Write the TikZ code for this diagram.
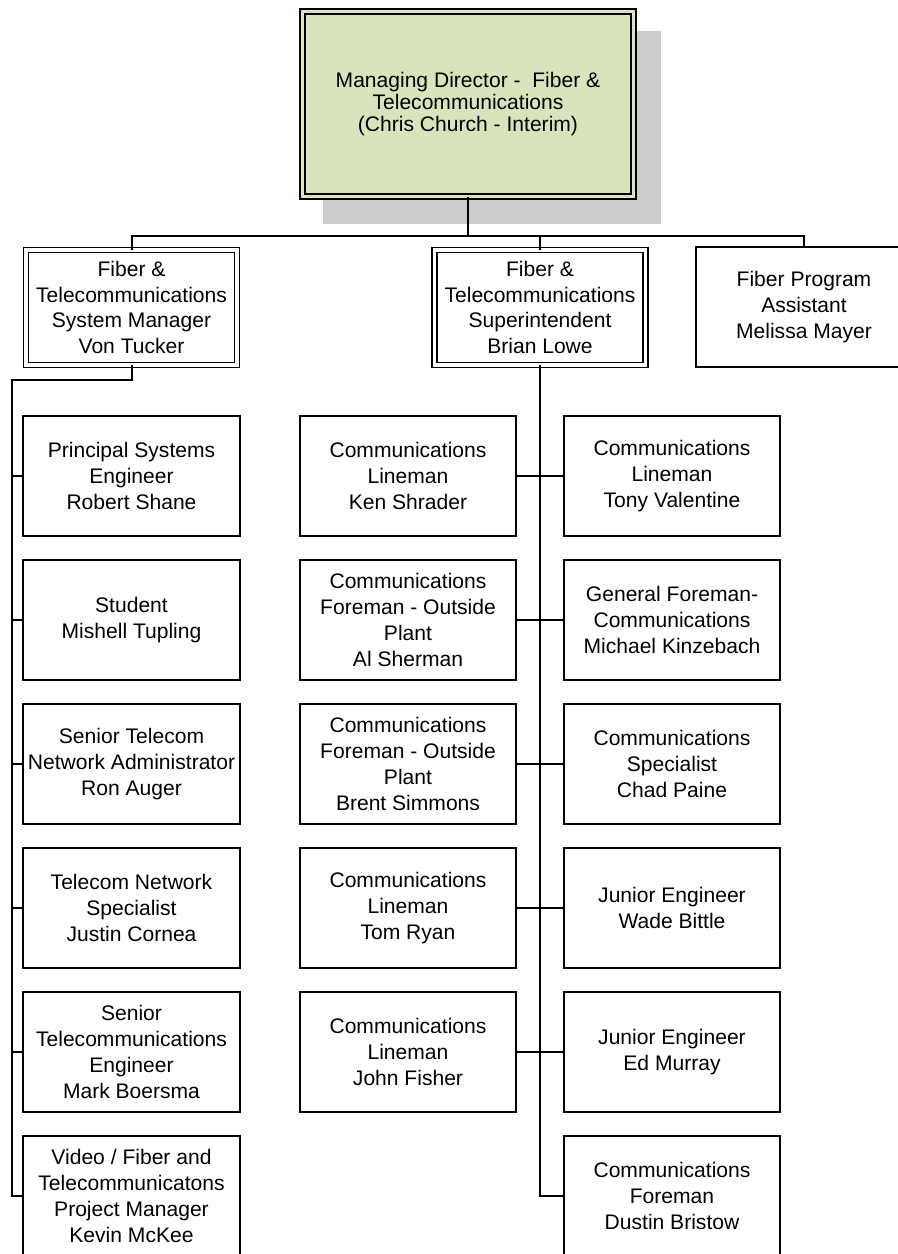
\documentclass[tikz,border=0pt]{standalone}
\usepackage{fontspec}
\setmainfont{Liberation Sans}
\usetikzlibrary{calc}

\definecolor{mdgreen}{RGB}{216,228,188}
\definecolor{mdshadow}{RGB}{204,204,204}

\tikzset{
        post/.style={draw, line width=1.5pt, minimum width=162.5pt, minimum height=90pt,
                inner sep=2pt, outer sep=0pt, align=center,
                font=\fontsize{15.8pt}{19.3pt}\selectfont},
        headpost/.style={post, double, line width=1.15pt, double distance=2.6pt,
                minimum width=158pt, minimum height=86pt},
        link/.style={line width=1.5pt},
}

\begin{document}
\begin{tikzpicture}[x=0.75pt,y=-0.75pt]
        \useasboundingbox (0,0) rectangle (898,1254);
        \clip (0,0) rectangle (898,1254);

        %director with its shadow
        \fill[mdshadow] (323,31) rectangle (661,224);
        \node[headpost, fill=mdgreen, double=mdgreen, line width=1.4pt, minimum width=248pt, minimum height=139pt,
                font=\fontsize{15.8pt}{16.6pt}\selectfont] (md) at (468,104) {Managing Director - \ Fiber \&\\Telecommunications\\(Chris Church - Interim)};

        %second level
        \node[headpost] (sysmgr) at (131.5,307.5) {Fiber \&\\Telecommunications\\System Manager\\Von Tucker};
        \node[headpost] (supt) at (540,307.5) {Fiber \&\\Telecommunications\\Superintendent\\Brian Lowe};
        \node[post] (assist) at (804,307) {Fiber Program\\Assistant\\Melissa Mayer};

        %system manager staff
        \node[post] (robert) at (131.5,476) {Principal Systems\\Engineer\\Robert Shane};
        \node[post] (mishell) at (131.5,620) {Student\\Mishell Tupling};
        \node[post] (ron) at (131.5,764) {Senior Telecom\\Network Administrator\\Ron Auger};
        \node[post] (justin) at (131.5,908) {Telecom Network\\Specialist\\Justin Cornea};
        \node[post] (mark) at (131.5,1052) {Senior\\Telecommunications\\Engineer\\Mark Boersma};
        \node[post] (kevin) at (131.5,1196) {Video / Fiber and\\Telecommunicatons\\Project Manager\\Kevin McKee};

        %superintendent staff, left side
        \node[post] (ken) at (408,476) {Communications\\Lineman\\Ken Shrader};
        \node[post] (al) at (408,620) {Communications\\Foreman - Outside\\Plant\\Al Sherman};
        \node[post] (brent) at (408,764) {Communications\\Foreman - Outside\\Plant\\Brent Simmons};
        \node[post] (tom) at (408,908) {Communications\\Lineman\\Tom Ryan};
        \node[post] (john) at (408,1052) {Communications\\Lineman\\John Fisher};

        %superintendent staff, right side
        \node[post] (tony) at (672,476) {Communications\\Lineman\\Tony Valentine};
        \node[post] (michael) at (672,620) {General Foreman-\\Communications\\Michael Kinzebach};
        \node[post] (chad) at (672,764) {Communications\\Specialist\\Chad Paine};
        \node[post] (wade) at (672,908) {Junior Engineer\\Wade Bittle};
        \node[post] (ed) at (672,1052) {Junior Engineer\\Ed Murray};
        \node[post] (dustin) at (672,1196) {Communications\\Foreman\\Dustin Bristow};

        %top bus
        \coordinate (topbus) at (468,236);
        \draw[link] (md.south) -- (topbus);
        \draw[link] (sysmgr.north) |- (topbus) -| (assist.north);
        \draw[link] (supt.north) -- (supt.north |- topbus);

        %left spine
        \coordinate (lspine) at (12,380);
        \draw[link] (sysmgr.south) |- (lspine) |- (kevin.west);
        \draw[link] (robert.west) -- (robert.west -| lspine);
        \draw[link] (mishell.west) -- (mishell.west -| lspine);
        \draw[link] (ron.west) -- (ron.west -| lspine);
        \draw[link] (justin.west) -- (justin.west -| lspine);
        \draw[link] (mark.west) -- (mark.west -| lspine);

        %middle spine
        \draw[link] (supt.south) |- (dustin.west);
        \draw[link] (ken.east) -- (tony.west);
        \draw[link] (al.east) -- (michael.west);
        \draw[link] (brent.east) -- (chad.west);
        \draw[link] (tom.east) -- (wade.west);
        \draw[link] (john.east) -- (ed.west);
\end{tikzpicture}
\end{document}
